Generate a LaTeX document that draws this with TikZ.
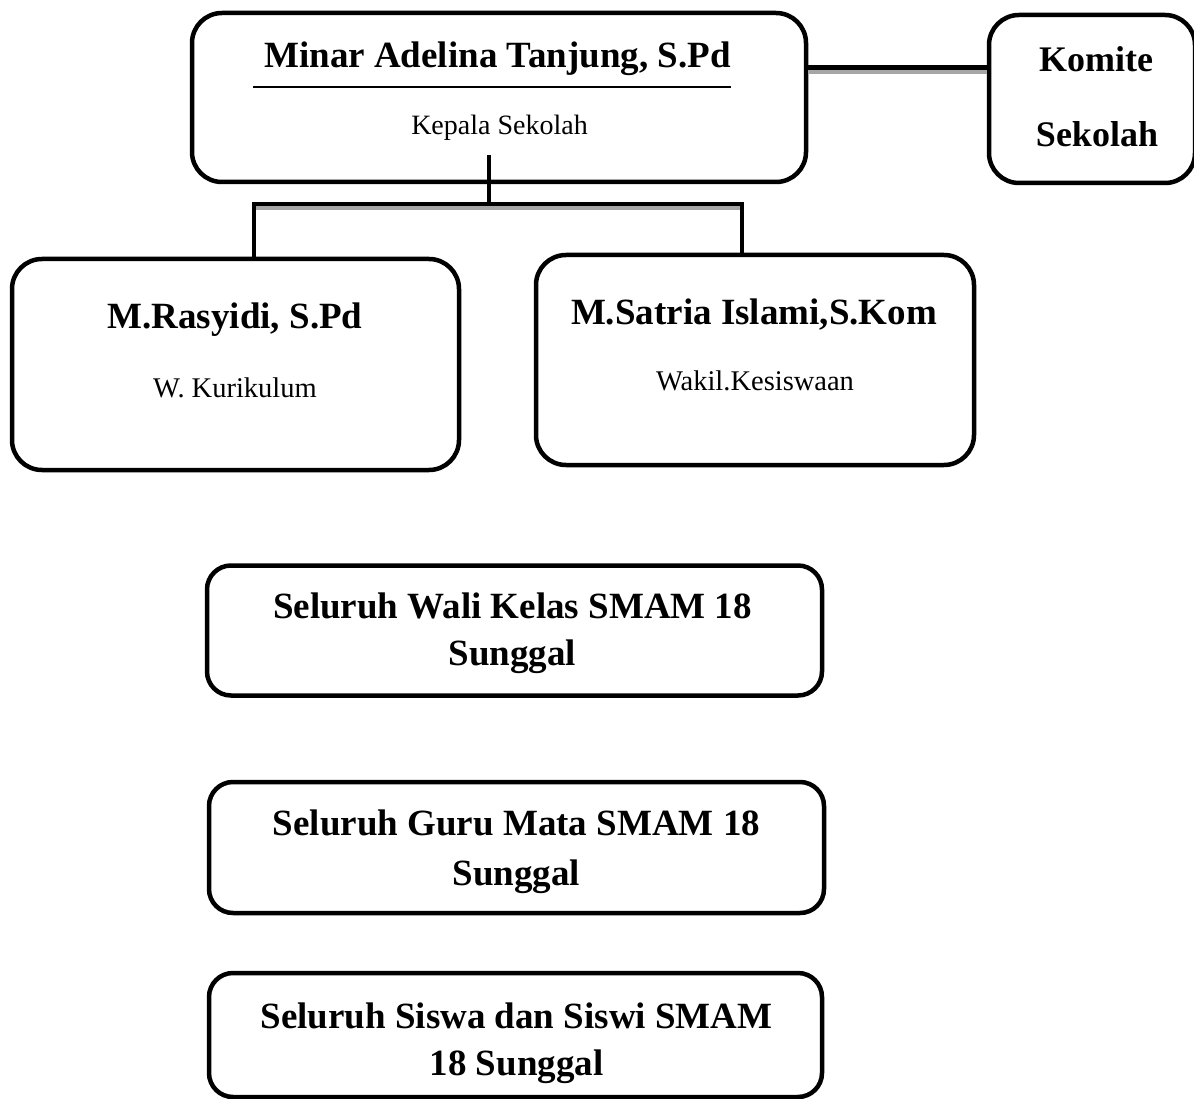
\documentclass[tikz,border=0pt]{standalone}
\usepackage{fontspec}
\setmainfont{Liberation Serif}
\begin{document}
\begin{tikzpicture}[x=1pt,y=-1pt,
  box/.style={draw=black, line width=4.5pt, rounded corners=30pt, inner sep=0pt, fill=white},
  sbox/.style={box, rounded corners=24pt},
  conn/.style={draw=black, line width=4.5pt},
  shadowline/.style={draw=black!35, line width=4pt},
  nametxt/.style={font=\fontsize{37}{44}\selectfont\bfseries, anchor=base, inner sep=0pt},
  roletxt/.style={font=\fontsize{28.5}{34}\selectfont, anchor=base, inner sep=0pt},
  komtxt/.style={font=\fontsize{36}{44}\selectfont\bfseries, anchor=base, inner sep=0pt}]
\useasboundingbox (0,0) rectangle (1194,1099);
\fill[white] (0,0) rectangle (1194,1099);

% boxes
\node[box, minimum width=614pt, minimum height=169pt] (kepala) at (499,97.5) {};
\node[box, minimum width=206pt, minimum height=168pt] (komite) at (1092,99) {};
\node[box, minimum width=447pt, minimum height=211pt] (rasyidi) at (235.5,364.5) {};
\node[box, minimum width=438pt, minimum height=210pt] (satria) at (755,360) {};
\node[sbox, minimum width=615pt, minimum height=130pt] (wali) at (514.5,630.5) {};
\node[sbox, minimum width=615pt, minimum height=131pt] (guru) at (516.5,847.5) {};
\node[sbox, minimum width=613pt, minimum height=124pt] (siswa) at (515.5,1035) {};

% texts
\node[nametxt] (minar) at (497.5,68) {Minar Adelina Tanjung, S.Pd};
\coordinate (ulL) at (253,87);
\coordinate (ulR) at (731,87);
\draw[line width=2pt] (ulL) -- (ulR);
\node[roletxt, font=\fontsize{28}{34}\selectfont] (kepalat) at (499.5,135) {Kepala Sekolah};
\node[komtxt] (komite1) at (1096,72) {Komite};
\node[komtxt] (komite2) at (1097,147) {Sekolah};
\node[nametxt] (rasyidit) at (235,328) {M.Rasyidi, S.Pd};
\node[roletxt] (kurikulum) at (235,397) {W. Kurikulum};
\node[nametxt] (satriat) at (754,324) {M.Satria Islami,S.Kom};
\node[roletxt] (wakil) at (755,390) {Wakil.Kesiswaan};
\node[nametxt] (wali1) at (512.5,618) {Seluruh Wali Kelas SMAM 18};
\node[nametxt] (wali2) at (512.5,665) {Sunggal};
\node[nametxt] (guru1) at (516.5,835) {Seluruh Guru Mata SMAM 18};
\node[nametxt] (guru2) at (516.5,885) {Sunggal};
\node[nametxt] (siswa1) at (516.5,1028) {Seluruh Siswa dan Siswi SMAM};
\node[nametxt] (siswa2) at (516.5,1075) {18 Sunggal};

% connectors
\coordinate (stem) at (489,155);
\coordinate (barL) at (254,204);
\coordinate (barR) at (742,204);
\coordinate (komy) at (900,67.5);
\coordinate (komys) at (900,72.5);
\draw[shadowline] ([yshift=-4.5pt]barL) -- ([yshift=-4.5pt]barR);
\draw[conn] (stem) -- (stem |- barL);
\draw[conn] (rasyidi.north -| barL) -- (barL) -- (barR) -- (satria.north -| barR);
\draw[shadowline] (komys -| kepala.east) -- (komys -| komite.west);
\draw[conn, line width=5pt] (komy -| kepala.east) -- (komy -| komite.west);
\end{tikzpicture}
\end{document}
